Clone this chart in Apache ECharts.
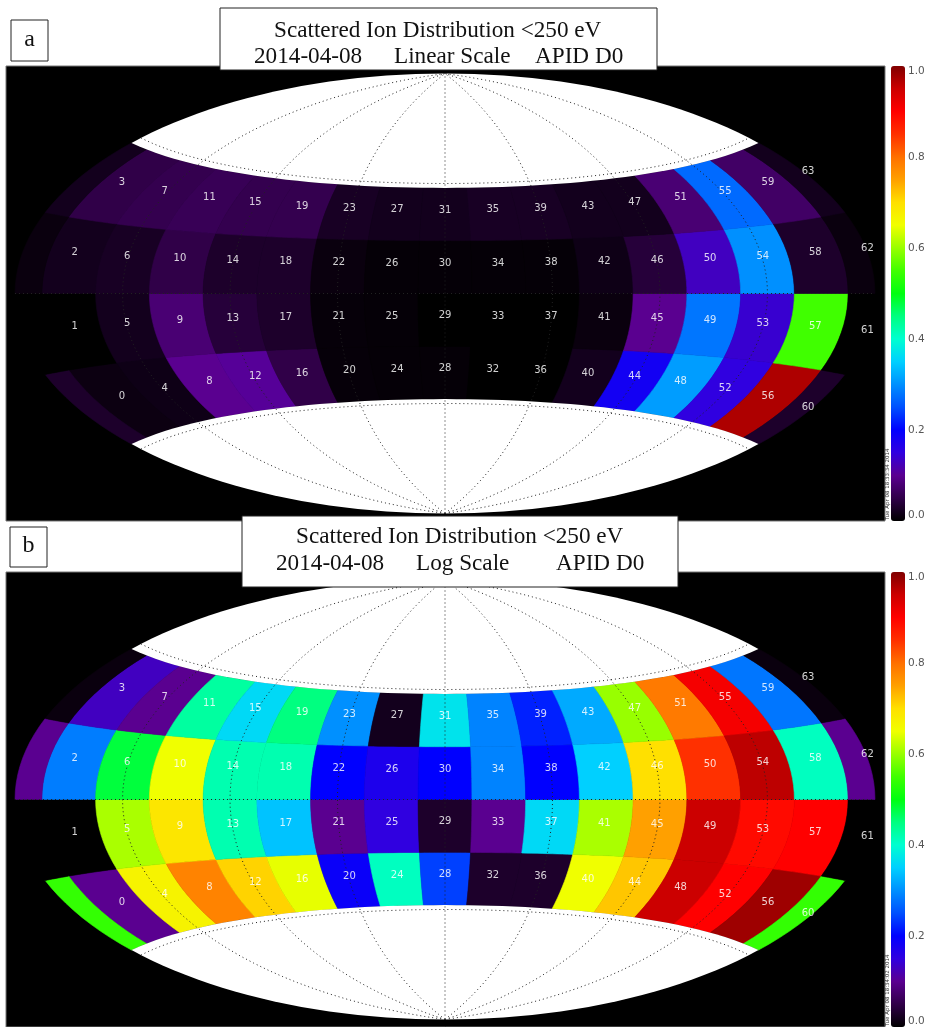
<!DOCTYPE html>
<html><head><meta charset="utf-8">
<style>html,body{margin:0;padding:0;background:#fff}#c{width:934px;height:1027px}</style>
<script src="https://cdn.jsdelivr.net/npm/echarts@6/dist/echarts.min.js"></script>
</head><body><div id="c"></div>
<script>
// cell values 0..63, four per longitude column, bottom row first
const linearValues = [
 .012,.0,.02,.05,  .015,.02,.025,.055,  .10,.08,.05,.06,  .105,.04,.03,.055,
 .05,.03,.03,.055, .006,.006,.01,.025,  .005,.005,.005,.02, .005,.0,.005,.02,
 .0,.0,.005,.025,  .0,.0,.005,.025,     .02,.01,.015,.02,  .18,.10,.04,.02,
 .31,.28,.13,.08,  .15,.14,.30,.27,     .97,.55,.03,.07,   .03,.0,.01,.02];
const logValues = [
 .10,.0,.285,.13,  .67,.61,.48,.10,     .78,.69,.65,.43,   .71,.42,.42,.36,
 .645,.34,.42,.45, .19,.10,.20,.30,     .41,.15,.17,.02,   .24,.03,.20,.37,
 .03,.10,.29,.29,  .03,.36,.20,.22,     .65,.61,.35,.32,   .72,.75,.70,.60,
 .95,.95,.85,.79,  .90,.89,.96,.91,     .98,.90,.41,.28,   .54,.0,.10,.01];
const latEdges = [-43.2,-21.6,0,21.6,43.2];
const lonFirst = -168.75, lonStep = 22.5;
const meridians = [-135,-90,-45,0,45,90,135];
const parallels = [-45,0,45];
const colorStops = ['#000000','#300048','#5a0090','#3000e0','#0000ff','#0050ff','#0090ff','#00d0ff','#00ffd0','#00ff80',
 '#00ff10','#40ff00','#98ff00','#f0ff00','#ffe000','#ffa000','#ff7000','#ff3000','#ff0000','#cc0000','#800000'];
const barTicks = {min:0,max:1,interval:0.2};
const titles = [
 {box:[220,8,437,62], line1:['Scattered Ion Distribution <250 eV',274,31], line2:[['2014-04-08',254],['Linear Scale',394],['APID D0',535]], y2:57, tag:'a', tagBox:[11,20,37,41]},
 {box:[242,516,436,71], line1:['Scattered Ion Distribution <250 eV',296,537], line2:[['2014-04-08',276],['Log Scale',416],['APID D0',556]], y2:564, tag:'b', tagBox:[10,527,37,40]}
];
const stamps = ['Tue Apr 08 18:33:34 2014','Tue Apr 08 18:34:02 2014'];

const rad = Math.PI/180;
function aitoff(lon,lat){
  const p=lat*rad,l=lon*rad,a=Math.acos(Math.cos(p)*Math.cos(l/2));
  const f=a<1e-6?1:a/Math.sin(a);
  return [2*Math.cos(p)*Math.sin(l/2)*f/Math.PI*180, Math.sin(p)*f/(Math.PI/2)*90];
}
function seq(a,b,n){const o=[];for(let i=0;i<=n;i++)o.push(a+(b-a)*i/n);return o;}
function cellData(vals){return vals.map((v,i)=>{
  const col=Math.floor(i/4),row=i%4;
  return [lonFirst+col*lonStep,latEdges[row],v,i,row];
});}
function poly(api,l0,l1,b0,b1){
  const pts=[];
  seq(l0,l1,10).forEach(l=>pts.push(api.coord(aitoff(l,b0))));
  seq(b0,b1,10).forEach(b=>pts.push(api.coord(aitoff(l1,b))));
  seq(l1,l0,10).forEach(l=>pts.push(api.coord(aitoff(l,b1))));
  seq(b1,b0,10).forEach(b=>pts.push(api.coord(aitoff(l0,b))));
  return pts;
}
function renderCell(p,api){
  const l0=api.value(0),b0=api.value(1),row=api.value(4),b1=latEdges[row+1],l1=l0+lonStep,c=api.visual('color');
  const ranges=l1>180?[[l0,180],[-180,l1-360]]:[[l0,l1]];
  return {type:'group',children:ranges.map(r=>({type:'polygon',shape:{points:poly(api,r[0],r[1],b0,b1)},style:{fill:c,stroke:c,lineWidth:.6}}))};
}
function renderLabel(p,api){
  const row=api.value(4),b=(latEdges[row]+latEdges[row+1])/2,l=api.value(0)+lonStep/2;
  const q=api.coord(aitoff(l,b));
  return {type:'text',x:q[0],y:q[1]-4,style:{text:String(api.value(3)),fill:'rgba(255,255,255,.82)',font:'10px "DejaVu Sans"',align:'center',verticalAlign:'middle'}};
}
function renderCap(p,api){
  const s=api.value(0),top=latEdges[4],pts=[];
  seq(-180,180,60).forEach(l=>pts.push(api.coord(aitoff(l,s*top))));
  seq(top,90,24).forEach(b=>pts.push(api.coord(aitoff(180,s*b))));
  seq(90,top,24).forEach(b=>pts.push(api.coord(aitoff(-180,s*b))));
  return {type:'polygon',shape:{points:pts},style:{fill:'#fff'}};
}
function renderGrat(p,api){
  const k=api.value(0),v=api.value(1);
  const pts=k===0?seq(-90,90,60).map(b=>api.coord(aitoff(v,b))):seq(-180,180,80).map(l=>api.coord(aitoff(l,v)));
  return {type:'polyline',shape:{points:pts},style:{fill:'none',stroke:'#222',lineWidth:1,lineDash:[1,3]}};
}
const gratData=meridians.map(m=>[0,m]).concat(parallels.map(b=>[1,b]));
const capData=[[1],[-1]];
const panels=[{vals:linearValues,top:66},{vals:logValues,top:572}];
const H=455,L=6,W=879;
const xHalf=[(L-445)/430*180,(L+W-445)/430*180], yHalf=(H/2)/220*90;
const opt={animation:false,backgroundColor:'#fff',grid:[],xAxis:[],yAxis:[],series:[],visualMap:[],graphic:[]};
panels.forEach((P,i)=>{
  opt.grid.push({left:L,top:P.top,width:W,height:H,show:true,backgroundColor:'#000',borderColor:'#777',borderWidth:1});
  opt.xAxis.push({gridIndex:i,type:'value',min:xHalf[0],max:xHalf[1],show:false});
  opt.yAxis.push({gridIndex:i,type:'value',min:-yHalf,max:yHalf,show:false});
  opt.yAxis.push({gridIndex:i,type:'value',position:'right',offset:20,min:barTicks.min,max:barTicks.max,interval:barTicks.interval,
    axisLine:{show:false},axisTick:{show:false},splitLine:{show:false},
    axisLabel:{color:'#555',fontSize:10.5,fontFamily:'"DejaVu Sans"',margin:3,formatter:v=>v.toFixed(1),verticalAlignMinLabel:'bottom',verticalAlignMaxLabel:'top'}});
  const base={type:'custom',coordinateSystem:'cartesian2d',xAxisIndex:i,yAxisIndex:i*2,clip:false,silent:true,encode:{x:0,y:1}};
  const n=opt.series.length;
  opt.series.push(Object.assign({},base,{name:'cells',data:cellData(P.vals),renderItem:renderCell,z:2}));
  opt.series.push(Object.assign({},base,{name:'caps',data:capData,renderItem:renderCap,encode:{},z:3}));
  opt.series.push(Object.assign({},base,{name:'graticule',data:gratData,renderItem:renderGrat,encode:{},z:4}));
  opt.series.push(Object.assign({},base,{name:'labels',data:cellData(P.vals),renderItem:renderLabel,z:5}));
  opt.visualMap.push({type:'continuous',seriesIndex:n,dimension:2,min:0,max:1,inRange:{color:colorStops},calculable:false,hoverLink:false,
    left:891,top:P.top,itemWidth:14,itemHeight:H,padding:0,text:null,orient:'vertical'});
  const T=titles[i];
  const serif='"Liberation Serif"';
  opt.graphic.push({type:'rect',z:100,shape:{x:T.box[0],y:T.box[1],width:T.box[2],height:T.box[3]},style:{fill:'#fff',stroke:'#222',lineWidth:1}});
  opt.graphic.push({type:'text',z:101,x:T.line1[1],y:T.line1[2],style:{text:T.line1[0],font:'23.2px '+serif,fill:'#111',verticalAlign:'middle'}});
  T.line2.forEach(s=>opt.graphic.push({type:'text',z:101,x:s[1],y:T.y2,style:{text:s[0],font:'23.2px '+serif,fill:'#111',verticalAlign:'middle'}}));
  opt.graphic.push({type:'rect',z:100,shape:{x:T.tagBox[0],y:T.tagBox[1],width:T.tagBox[2],height:T.tagBox[3]},style:{fill:'#fff',stroke:'#222',lineWidth:1}});
  opt.graphic.push({type:'text',z:101,x:T.tagBox[0]+T.tagBox[2]/2,y:T.tagBox[1]+T.tagBox[3]/2-1,style:{text:T.tag,font:'24px '+serif,fill:'#111',align:'center',verticalAlign:'middle'}});
  opt.graphic.push({type:'text',z:101,x:887.5,y:P.top+H-1,rotation:Math.PI/2,style:{text:stamps[i],font:'5.5px "DejaVu Sans"',fill:'#333',verticalAlign:'middle'}});
});
echarts.init(document.getElementById('c'),null,{renderer:'canvas'}).setOption(opt);
</script></body></html>
